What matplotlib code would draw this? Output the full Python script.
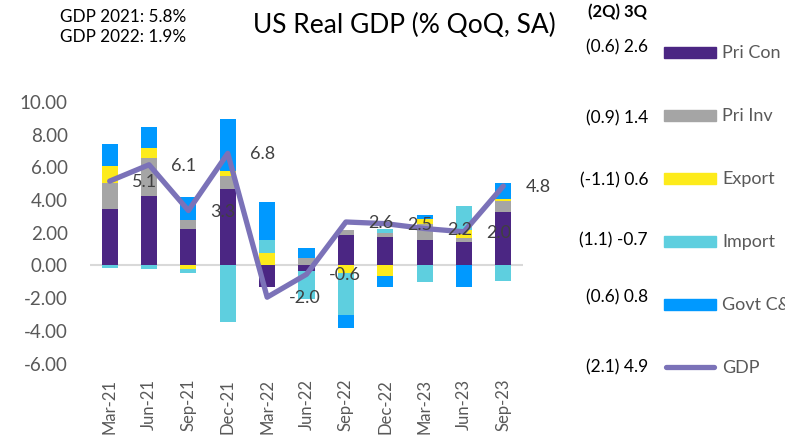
import numpy as np
import matplotlib
matplotlib.use("Agg")
import matplotlib.pyplot as plt
from matplotlib.patches import Rectangle
from matplotlib.lines import Line2D

plt.rcParams['font.family'] = ['Lato', 'DejaVu Sans']

# quarters on the x axis
quarters = ['Mar-21', 'Jun-21', 'Sep-21', 'Dec-21', 'Mar-22', 'Jun-22',
            'Sep-22', 'Dec-22', 'Mar-23', 'Jun-23', 'Sep-23']

# contributions to growth (pp)
pri_con = [3.4, 4.2, 2.2, 4.6, -1.4, -0.4, 1.8, 1.7, 1.5, 1.4, 3.2]
pri_inv = [1.6, 2.3, 0.5, 0.8, 0.0, 0.4, 0.3, 0.2, 1.0, 0.2, 0.7]
export = [1.0, 0.6, -0.3, 0.3, 0.7, 0.0, -0.5, -0.7, 0.3, 0.5, 0.1]
imports = [-0.2, -0.3, -0.2, -3.5, 0.8, -1.7, -2.6, 0.3, -1.1, 1.5, -1.0]
govt = [1.4, 1.3, 1.4, 3.2, 2.3, 0.6, -0.8, -0.7, 0.25, -1.4, 1.0]

# headline GDP line and its labels
gdp = [5.1, 6.1, 3.3, 6.8, -2.0, -0.6, 2.6, 2.5, 2.2, 2.0, 4.8]

series_names = ['Pri Con', 'Pri Inv', 'Export', 'Import', 'Govt C&I']
series_vals = [pri_con, pri_inv, export, imports, govt]
series_cols = ['#4B2683', '#A5A5A5', '#FDEB1B', '#5ECFDF', '#0099FF']
q2_q3_text = ['(0.6) 2.6', '(0.9) 1.4', '(-1.1) 0.6', '(1.1) -0.7', '(0.6) 0.8', '(2.1) 4.9']

LINE_COL = '#7B72B8'
W, H = 785, 439

fig = plt.figure(figsize=(W / 100, H / 100), dpi=100)
ax = fig.add_axes([90 / W, 1 - 363.6 / H, 433 / W, (363.6 - 102) / H])

x = np.arange(len(quarters))
pos_base = np.zeros(len(x))
neg_base = np.zeros(len(x))
for vals, col in zip(series_vals, series_cols):
    v = np.array(vals, dtype=float)
    bottom = np.where(v >= 0, pos_base, neg_base)
    ax.bar(x, v, width=0.41, bottom=bottom, color=col, zorder=2)
    pos_base = pos_base + np.where(v > 0, v, 0)
    neg_base = neg_base + np.where(v < 0, v, 0)

ax.axhline(0, color='#D9D9D9', lw=1.5, zorder=1)

ax.plot(x, gdp, color=LINE_COL, lw=3.8, solid_capstyle='round',
        solid_joinstyle='round', zorder=3)
for xi, g in zip(x, gdp):
    ax.annotate('%.1f' % g, (xi, g), xytext=(16, 0), textcoords='offset points',
                ha='left', va='center', fontsize=13, color='#404040', zorder=4)

ax.set_xlim(-0.5, len(x) - 0.5)
ax.set_ylim(-6, 10)
ax.set_yticks(np.arange(-6, 11, 2))
ax.set_yticklabels(['%.2f' % t for t in np.arange(-6, 11, 2)])
ax.set_xticks(x)
ax.set_xticklabels(quarters, rotation=90)
ax.tick_params(axis='y', length=0, pad=16, labelsize=13.5, labelcolor='#595959')
ax.tick_params(axis='x', length=0, pad=11, labelsize=12, labelcolor='#595959')
for s in ax.spines.values():
    s.set_visible(False)

# titles
fig.text(404 / W, 1 - 25 / H, 'US Real GDP (% QoQ, SA)', ha='center', va='center',
         fontsize=19, color='black')
fig.text(60 / W, 1 - 17 / H, 'GDP 2021: 5.8%', ha='left', va='center', fontsize=12.3)
fig.text(60 / W, 1 - 37 / H, 'GDP 2022: 1.9%', ha='left', va='center', fontsize=12.3)
fig.text(617 / W, 1 - 12 / H, '(2Q) 3Q', ha='center', va='center', fontsize=12,
         fontweight='bold')

# hand-made legend on the right
row_y = [53, 116, 179, 242, 305, 368]
num_y = [47, 118, 180, 240, 297, 367]
for i, (name, col) in enumerate(zip(series_names, series_cols)):
    fig.add_artist(Rectangle((664 / W, 1 - (row_y[i] + 5.5) / H), 52 / W, 11 / H,
                             transform=fig.transFigure, color=col))
    fig.text(722 / W, 1 - row_y[i] / H, name, ha='left', va='center',
             fontsize=13, color='#595959')
fig.add_artist(Line2D([666 / W, 714 / W], [1 - row_y[5] / H] * 2, transform=fig.transFigure,
                      color=LINE_COL, lw=3.8, solid_capstyle='round'))
fig.text(722 / W, 1 - row_y[5] / H, 'GDP', ha='left', va='center', fontsize=13,
         color='#595959')
for t, yy in zip(q2_q3_text, num_y):
    fig.text(648 / W, 1 - yy / H, t, ha='right', va='center', fontsize=12.5, color='black')

fig.savefig('out.png', dpi=100)
